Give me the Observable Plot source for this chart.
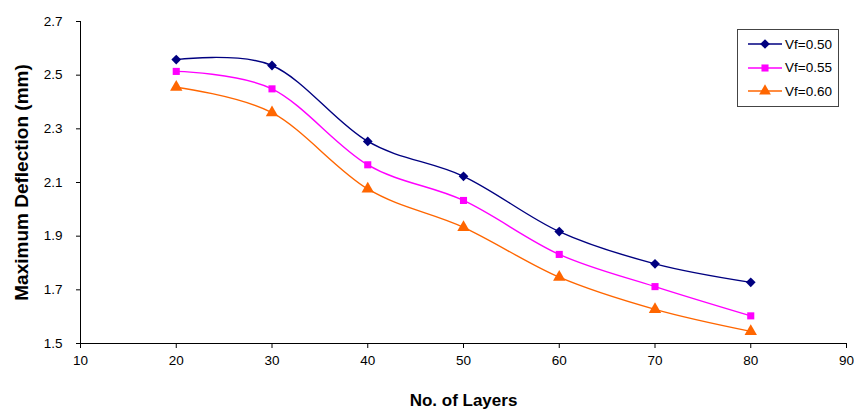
<!DOCTYPE html>
<html>
<head>
<meta charset="utf-8">
<script src="https://cdn.jsdelivr.net/npm/d3@7"></script>
<script src="https://cdn.jsdelivr.net/npm/@observablehq/plot@0.6"></script>
<style>
  html, body { margin: 0; padding: 0; background: #fff; }
  #wrap { position: relative; width: 854px; height: 415px; font-family: "Liberation Sans", Arial, sans-serif; }
  #legend { position: absolute; left: 737px; top: 29px; width: 102px; height: 78px; border: 1px solid #444; background: #fff; box-sizing: border-box; }
  #legend .row { position: absolute; left: 10px; height: 20px; display: flex; align-items: center; font-size: 13.5px; color: #000; }
  #legend svg { margin-right: 3px; }
</style>
</head>
<body>
<div id="wrap"><div id="chart"></div><div id="legend"></div></div>
<script>
const layers = [20, 30, 40, 50, 60, 70, 80];
const seriesNames = ["Vf=0.50", "Vf=0.55", "Vf=0.60"];
const vf050 = [2.558, 2.536, 2.253, 2.123, 1.917, 1.797, 1.728];
const vf055 = [2.514, 2.449, 2.166, 2.033, 1.832, 1.712, 1.603];
const vf060 = [2.455, 2.360, 2.076, 1.933, 1.747, 1.627, 1.545];
const xTicks = [10, 20, 30, 40, 50, 60, 70, 80, 90];
const yTicks = [1.5, 1.7, 1.9, 2.1, 2.3, 2.5, 2.7];

const colors = ["#000080", "#FF00FF", "#FF6600"];
const symbolTypes = [d3.symbolDiamond2, d3.symbolSquare, d3.symbolTriangle];
const radii = [4.4, 4, 4.6];
const allValues = [vf050, vf055, vf060];

const rows = [];
allValues.forEach((vals, s) => vals.forEach((v, i) => rows.push({series: seriesNames[s], x: layers[i], y: v})));

const marks = [];
seriesNames.forEach((name, s) => {
  const d = rows.filter(r => r.series === name);
  marks.push(Plot.line(d, {x: "x", y: "y", stroke: colors[s], strokeWidth: 1.4, curve: "cardinal"}));
  marks.push(Plot.dot(d, {x: "x", y: "y", fill: colors[s], stroke: "none", symbol: symbolTypes[s], r: radii[s]}));
});

const chart = Plot.plot({
  width: 854,
  height: 415,
  marginLeft: 80,
  marginRight: 8,
  marginTop: 21,
  marginBottom: 72,
  style: {fontFamily: "'Liberation Sans', Arial, sans-serif", fontSize: "13.5px", color: "#000", background: "#fff"},
  x: {domain: [10, 90], label: null},
  y: {domain: [1.5, 2.7], label: null},
  marks: [
    ...marks,
    Plot.axisX({ticks: xTicks, tickSize: 5, tickPadding: 7, label: "No. of Layers", labelAnchor: "center", labelOffset: 62, labelArrow: "none"}),
    Plot.axisY({ticks: yTicks, tickSize: 4, tickPadding: 14, tickFormat: d3.format(".1f"), label: "Maximum Deflection (mm)", labelAnchor: "center", labelOffset: 66, labelArrow: "none"}),
    Plot.ruleX([10], {stroke: "#000", strokeWidth: 1}),
    Plot.ruleY([1.5], {stroke: "#000", strokeWidth: 1})
  ]
});
document.getElementById("chart").appendChild(chart);
chart.querySelectorAll("g[aria-label='x-axis label'] text").forEach(t => {
  t.style.fontWeight = "bold"; t.style.fontSize = "17px";
});
chart.querySelectorAll("g[aria-label='y-axis label'] text").forEach(t => {
  t.style.fontWeight = "bold"; t.style.fontSize = "19px";
});

// legend
const legend = document.getElementById("legend");
const symPaths = [
  d3.symbol(d3.symbolDiamond2, 60)(),
  d3.symbol(d3.symbolSquare, 50)(),
  d3.symbol(d3.symbolTriangle, 60)()
];
seriesNames.forEach((name, s) => {
  const row = document.createElement("div");
  row.className = "row";
  row.style.top = (4 + s * 23.5) + "px";
  row.innerHTML = `<svg width="34" height="14"><line x1="0" x2="34" y1="7" y2="7" stroke="${colors[s]}" stroke-width="1.4"/><path transform="translate(17,7)" d="${symPaths[s]}" fill="${colors[s]}"/></svg><span>${name}</span>`;
  legend.appendChild(row);
});
</script>
</body>
</html>
